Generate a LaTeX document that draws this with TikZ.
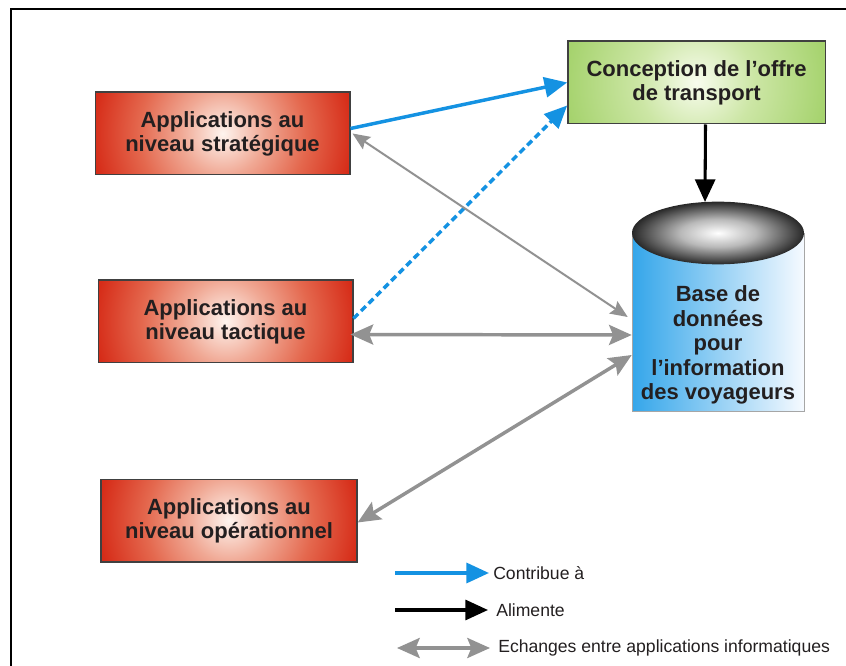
\documentclass[tikz,border=0pt]{standalone}
\usepackage{fontspec}
\setmainfont{Liberation Sans}
\usepackage{xcolor}
\usetikzlibrary{arrows.meta, positioning, calc}

\definecolor{boxred}{RGB}{214,44,24}
\definecolor{boxmid}{RGB}{228,104,78}
\definecolor{boxsalmon}{RGB}{240,168,148}
\definecolor{boxcenter}{RGB}{254,244,238}
\definecolor{greenedge}{RGB}{166,211,110}
\definecolor{greenmid}{RGB}{204,230,165}
\definecolor{greencenter}{RGB}{248,252,238}
\definecolor{dbblue}{RGB}{52,166,234}
\definecolor{dbwhite}{RGB}{246,250,255}
\definecolor{dbdark}{RGB}{40,40,40}
\definecolor{arrowblue}{RGB}{20,146,226}
\definecolor{arrowgray}{RGB}{146,146,146}
\definecolor{inktext}{RGB}{35,31,32}

\pgfdeclareradialshading{redglow}{\pgfpoint{0bp}{0bp}}{color(0bp)=(boxcenter); color(8bp)=(boxsalmon); color(16bp)=(boxmid); color(25bp)=(boxred); color(50bp)=(boxred)}
\pgfdeclareradialshading{greenglow}{\pgfpoint{0bp}{0bp}}{color(0bp)=(greencenter); color(11bp)=(greenmid); color(25bp)=(greenedge); color(50bp)=(greenedge)}
\pgfdeclareradialshading{dbtop}{\pgfpoint{0bp}{0bp}}{color(0bp)=(white); color(11bp)=(gray!55); color(25bp)=(dbdark); color(50bp)=(dbdark)}

\begin{document}
\begin{tikzpicture}[x=0.75pt, y=-0.75pt,
    box/.style={rectangle, minimum width=191pt, minimum height=62pt, align=center, draw=black!75, line width=1pt, fill=boxred, text=inktext, font=\bfseries\fontsize{16.5}{18}\selectfont,
        path picture={\shade [shading=redglow] (path picture bounding box.center) circle [radius=98pt];}},
    gbox/.style={box, minimum width=193pt, fill=greenedge,
        path picture={\shade [shading=greenglow] (path picture bounding box.center) circle [radius=98pt];}},
    dbtext/.style={rectangle, minimum width=129pt, minimum height=102pt, align=center, text=inktext, font=\bfseries\fontsize{16.5}{18.4}\selectfont},
    legend/.style={anchor=west, inner sep=3pt, text=inktext, font=\fontsize{13.2}{15}\selectfont},
    bluearrow/.style={draw=arrowblue, line width=2.6pt, -{Triangle[length=17pt, width=15pt]}},
    blackarrow/.style={draw=black, line width=2.3pt, -{Triangle[length=17pt, width=15pt]}},
    grayarrow/.style={draw=arrowgray, line width=2.6pt, {Stealth[length=17pt, width=15pt, inset=3pt]}-{Stealth[length=17pt, width=15pt, inset=3pt]}},
    thingray/.style={draw=arrowgray, line width=1.5pt, {Stealth[length=13pt, width=11pt, inset=2pt]}-{Stealth[length=13pt, width=11pt, inset=2pt]}}
]
\useasboundingbox (0,0) rectangle (846,666);
\draw [line width=2pt] (11,666) -- (11,9) -- (846,9);

% application boxes
\node (strat) [box] at (222.5,133.5) {Applications au\\niveau stratégique};
\node (tact) [box] at (225.5,321.5) {Applications au\\niveau tactique};
\node (oper) [box, minimum width=192pt] at (229,520.5) {Applications au\\niveau opérationnel};
\node (conc) [gbox] at (696.5,82.5) {Conception de l’offre\\de transport};

% database cylinder
\shade [left color=dbblue, right color=dbwhite, draw=gray!70, line width=0.6pt] (632,233) -- (632,411) -- (804,411) -- (804,233) -- cycle;
\shade [shading=dbtop] (718,233) ellipse [x radius=64.5pt, y radius=23.5pt];
\coordinate (dbtop) at (705,202);
\node (db) [dbtext] at (718,345) {Base de\\données\\pour\\l’information\\des voyageurs};

% connectors
\draw [bluearrow] ($(strat.east)+(0,-5)$) -- (conc.west);
\draw [bluearrow, dash pattern=on 5pt off 3pt] ($(tact.east)+(0,-3)$) -- ($(conc.west)+(0,23)$);
\draw [blackarrow] ($(conc.south)+(9,0)$) -- (dbtop);
\draw [thingray] ($(strat.east)+(2,0)$) -- ($(db.west)+(-4,-28)$);
\draw [grayarrow] ($(tact.east)+(-3,13)$) -- ($(db.west)+(0,-10)$);
\draw [grayarrow] ($(oper.east)+(0,2)$) -- ($(db.west)+(0,10)$);

% legend
\coordinate (k1) at (395,573);
\coordinate (k2) at (395,610);
\coordinate (k3) at (397,648);
\node (leg1) [legend] at (489,573) {Contribue à};
\node (leg2) [legend] at (492,610) {Alimente};
\node (leg3) [legend] at (494,648) {Echanges entre applications informatiques};
\draw [bluearrow] (k1) -- (leg1.west);
\draw [blackarrow, shorten >=3pt] (k2) -- (leg2.west);
\draw [grayarrow, shorten >=3pt] (k3) -- (leg3.west);
\end{tikzpicture}
\end{document}
